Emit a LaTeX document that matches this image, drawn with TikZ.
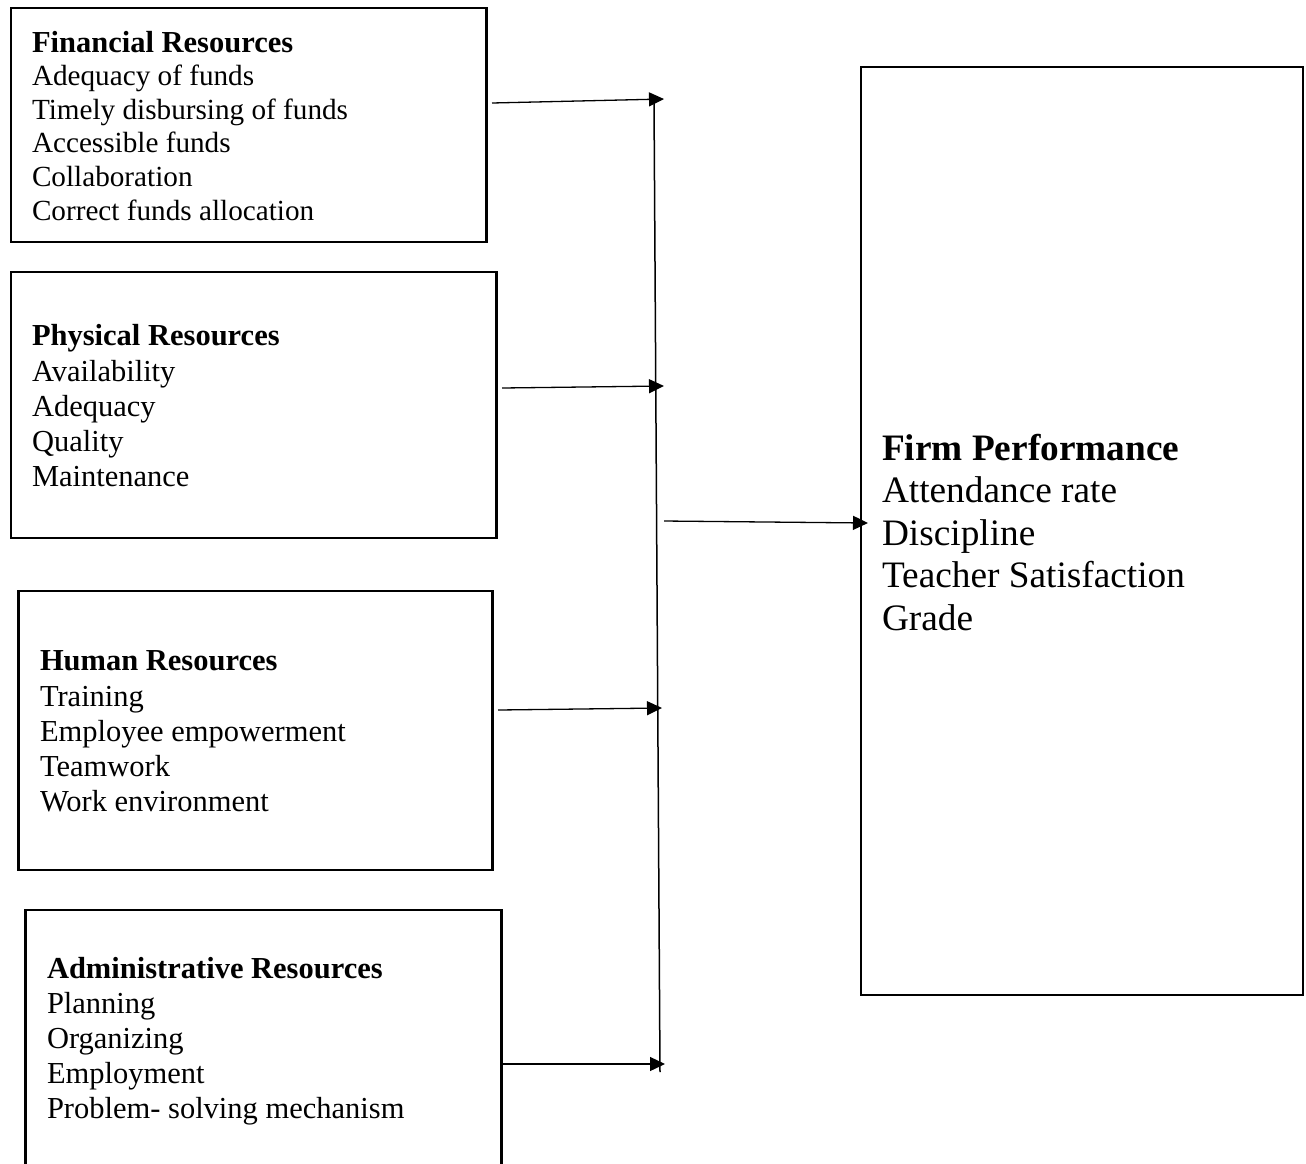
\documentclass[tikz,border=0pt]{standalone}
\usepackage{fontspec}
\setmainfont{Liberation Serif}
\usetikzlibrary{arrows.meta}
\begin{document}
\begin{tikzpicture}[x=1pt,y=-1pt,
  box/.style={draw, line width=2.4pt, inner sep=0pt, outer sep=0pt, anchor=north west},
  txt/.style={anchor=north west, inner sep=0pt, outer sep=0pt, align=left},
  arr/.style={-{Triangle[length=15pt,width=14pt]}, line width=1.3pt},
  vline/.style={line width=1.5pt}]
\clip (0,0) rectangle (1306,1163);
\fill[white] (0,0) rectangle (1306,1163);
% boxes
\node[box, minimum width=475.5pt, minimum height=234pt] (b1) at (11,8) {};
\node[box, minimum width=485.5pt, minimum height=266pt] (b2) at (11,272) {};
\node[box, minimum width=474pt, minimum height=279pt] (b3) at (18.5,591) {};
\node[box, minimum width=476pt, minimum height=300pt] (b4) at (25.5,910) {};
\node[box, minimum width=442pt, minimum height=928pt] (fp) at (861,67) {};
% texts
\node[txt, font=\fontsize{29.2}{33.6}\selectfont] (t1) at (32,28.5)
  {{\fontsize{30.5}{33.6}\selectfont\bfseries\strut Financial Resources}\\
   Adequacy of funds\\ Timely disbursing of funds\\ Accessible funds\\
   Collaboration\\ Correct funds allocation};
\node[txt, font=\fontsize{30.5}{35.25}\selectfont] (t2) at (32,321.3)
  {\textbf{\strut Physical Resources}\\ Availability\\ Adequacy\\ Quality\\ Maintenance};
\node[txt, font=\fontsize{30.5}{35.25}\selectfont] (t3) at (40,646.3)
  {\textbf{\strut Human Resources}\\ Training\\ Employee empowerment\\ Teamwork\\ Work environment};
\node[txt, font=\fontsize{30.5}{35}\selectfont] (t4) at (47,953.5)
  {\textbf{\strut Administrative Resources}\\ Planning\\ Organizing\\ Employment\\ Problem- solving mechanism};
\node[txt, font=\fontsize{37.3}{42.5}\selectfont] (t5) at (882,430.25)
  {\textbf{\strut Firm Performance}\\ Attendance rate\\ Discipline\\ Teacher Satisfaction\\ Grade};
% connector points
\coordinate (s1) at (492,103);  \coordinate (e1) at (664,99);
\coordinate (s2) at (502,388);  \coordinate (e2) at (664,386);
\coordinate (s3) at (498,710);  \coordinate (e3) at (662,708);
\coordinate (s4) at (503,1064); \coordinate (e4) at (665,1064);
\coordinate (vt) at (654,101);  \coordinate (vb) at (660,1072);
\coordinate (s5) at (664,521);
\coordinate (e5) at (fp.west |- 0,523);
% connectors
\draw[vline] (vt) -- (vb);
\draw[arr] (s1) -- (e1);
\draw[arr] (s2) -- (e2);
\draw[arr] (s3) -- (e3);
\draw[arr] (s4) -- (e4);
\draw[arr] (s5) -- ([xshift=7pt]e5);
\end{tikzpicture}
\end{document}
